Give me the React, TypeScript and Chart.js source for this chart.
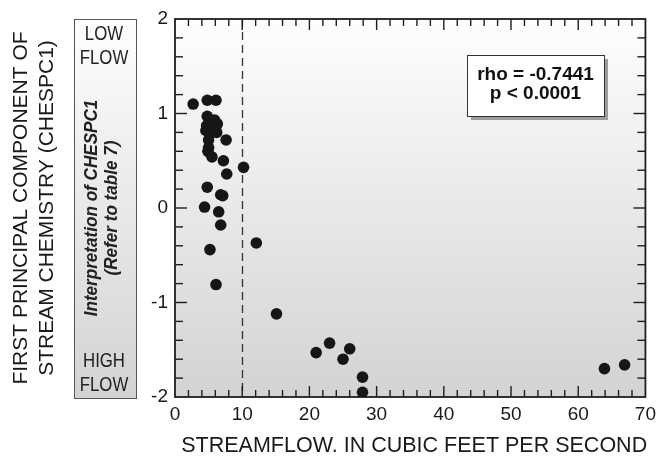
import React, { useEffect, useRef } from "react";
import { Chart, registerables } from "chart.js";

Chart.register(...registerables);

// Streamflow (cfs) and CHESPC1 values
const streamflow = [
  2.7, 4.8, 6.1, 4.8, 5.9, 6.3, 4.7, 4.6, 6.2, 5.2, 5.0, 7.6, 5.0, 5.0, 4.9, 5.5,
  7.2, 10.2, 7.7, 4.8, 6.8, 7.1, 4.4, 6.5, 6.8, 12.1, 5.2, 6.1, 15.1, 21.0, 23.0,
  25.0, 26.0, 27.9, 27.9, 63.9, 66.9,
];
const chespc1 = [
  1.1, 1.14, 1.14, 0.97, 0.93, 0.89, 0.87, 0.82, 0.8, 0.79, 0.84, 0.72, 0.72, 0.64,
  0.6, 0.54, 0.5, 0.43, 0.36, 0.22, 0.14, 0.13, 0.01, -0.04, -0.18, -0.37, -0.44,
  -0.81, -1.12, -1.53, -1.43, -1.6, -1.49, -1.79, -1.95, -1.7, -1.66,
];

const xMin = 0;
const xMax = 70;
const xMajorStep = 10;
const xMinorStep = 2;
const yMin = -2;
const yMax = 2;
const yMajorStep = 1;
const yMinorStep = 0.2;
const thresholdFlow = 10;

const statLines = ["rho = -0.7441", "p < 0.0001"];
const xTitle = "STREAMFLOW. IN CUBIC FEET PER SECOND";
const yTitleLines = ["FIRST PRINCIPAL COMPONENT OF", "STREAM CHEMISTRY (CHESPC1)"];
const interpLines = ["Interpretation of CHESPC1", "(Refer to table 7)"];
const lowLabel = ["LOW", "FLOW"];
const highLabel = ["HIGH", "FLOW"];

const FONT = "'Liberation Sans', Arial, Helvetica, sans-serif";

function gradientFill(ctx: CanvasRenderingContext2D, top: number, bottom: number) {
  const g = ctx.createLinearGradient(0, top, 0, bottom);
  g.addColorStop(0, "#fefefe");
  g.addColorStop(1, "#d2d3d5");
  return g;
}

function drawFrameAndTicks(chart: any) {
  const ctx: CanvasRenderingContext2D = chart.ctx;
  const a = chart.chartArea;
  const xs = chart.scales.x;
  const ys = chart.scales.y;
  ctx.save();
  ctx.fillStyle = "#1e1e1e";
  const w = 1.4;
  const nx = Math.round((xMax - xMin) / xMinorStep);
  for (let i = 1; i < nx; i++) {
    const v = xMin + i * xMinorStep;
    const major = Math.abs(v / xMajorStep - Math.round(v / xMajorStep)) < 1e-6;
    const len = major ? 11 : 7;
    const p = xs.getPixelForValue(v);
    ctx.fillRect(p - w / 2, a.top, w, len);
    ctx.fillRect(p - w / 2, a.bottom - len, w, len);
  }
  const ny = Math.round((yMax - yMin) / yMinorStep);
  for (let i = 1; i < ny; i++) {
    const v = yMin + i * yMinorStep;
    const major = Math.abs(v / yMajorStep - Math.round(v / yMajorStep)) < 1e-6;
    const len = major ? 12 : 8;
    const p = ys.getPixelForValue(v);
    ctx.fillRect(a.left, p - w / 2, len, w);
    ctx.fillRect(a.right - len, p - w / 2, len, w);
  }
  ctx.strokeStyle = "#1e1e1e";
  ctx.lineWidth = 1.8;
  ctx.strokeRect(a.left, a.top, a.right - a.left, a.bottom - a.top);
  ctx.restore();
}

const decorPlugin = {
  id: "decor",
  beforeDraw(chart: any) {
    const ctx: CanvasRenderingContext2D = chart.ctx;
    const a = chart.chartArea;
    ctx.save();
    ctx.fillStyle = "#ffffff";
    ctx.fillRect(0, 0, chart.width, chart.height);
    ctx.fillStyle = gradientFill(ctx, a.top, a.bottom);
    ctx.fillRect(a.left, a.top, a.right - a.left, a.bottom - a.top);

    // interpretation box
    const bx = 74, bw = 62, by = a.top, bh = a.bottom - a.top + 1;
    ctx.fillStyle = gradientFill(ctx, by, by + bh);
    ctx.fillRect(bx, by, bw, bh);
    ctx.strokeStyle = "#555";
    ctx.lineWidth = 1;
    ctx.strokeRect(bx + 0.5, by + 0.5, bw, bh);

    const cx = bx + bw / 2 - 1;
    ctx.fillStyle = "#222";
    ctx.textAlign = "center";
    ctx.textBaseline = "middle";
    ctx.font = `21px ${FONT}`;
    const drawNarrow = (t: string, x: number, y: number) => {
      ctx.save();
      ctx.translate(x, y);
      ctx.scale(0.8, 1);
      ctx.fillText(t, 0, 0);
      ctx.restore();
    };
    drawNarrow(lowLabel[0], cx, by + 15);
    drawNarrow(lowLabel[1], cx, by + 39);
    drawNarrow(highLabel[0], cx, by + bh - 37);
    drawNarrow(highLabel[1], cx, by + bh - 13);

    const midY = (a.top + a.bottom) / 2;
    ctx.font = `italic bold 19px ${FONT}`;
    [[interpLines[0], 92], [interpLines[1], 112]].forEach(([t, x]) => {
      ctx.save();
      ctx.translate(x as number, midY);
      ctx.rotate(-Math.PI / 2);
      ctx.scale(0.9, 1);
      ctx.fillText(t as string, 0, 0);
      ctx.restore();
    });

    ctx.font = `21px ${FONT}`;
    ctx.fillStyle = "#1a1a1a";
    [[yTitleLines[0], 21], [yTitleLines[1], 47]].forEach(([t, x]) => {
      ctx.save();
      ctx.translate(x as number, midY);
      ctx.rotate(-Math.PI / 2);
      ctx.fillText(t as string, 0, 0);
      ctx.restore();
    });

    ctx.font = `21.5px ${FONT}`;
    ctx.fillText(xTitle, (a.left + a.right) / 2 + 4, 446);
    ctx.restore();
  },
  beforeDatasetsDraw(chart: any) {
    const ctx: CanvasRenderingContext2D = chart.ctx;
    const a = chart.chartArea;
    const xs = chart.scales.x;
    ctx.save();
    const px = Math.round(xs.getPixelForValue(thresholdFlow)) + 0.5;
    ctx.strokeStyle = "#333";
    ctx.lineWidth = 1.3;
    ctx.setLineDash([8, 5]);
    ctx.beginPath();
    ctx.moveTo(px, a.top);
    ctx.lineTo(px, a.bottom);
    ctx.stroke();
    ctx.restore();
    drawFrameAndTicks(chart);
  },
  afterDraw(chart: any) {
    const ctx: CanvasRenderingContext2D = chart.ctx;
    ctx.save();
    const bx = 467, by = 55, bw = 137, bh = 61;
    ctx.fillStyle = "#9d9d9f";
    ctx.fillRect(bx + 4, by + 4, bw, bh);
    ctx.fillStyle = "#ffffff";
    ctx.fillRect(bx, by, bw, bh);
    ctx.strokeStyle = "#333";
    ctx.lineWidth = 1;
    ctx.strokeRect(bx + 0.5, by + 0.5, bw, bh);
    ctx.fillStyle = "#111";
    ctx.font = `bold 19px ${FONT}`;
    ctx.textAlign = "center";
    ctx.textBaseline = "middle";
    ctx.fillText(statLines[0], bx + bw / 2, by + 20);
    ctx.fillText(statLines[1], bx + bw / 2, by + 39);
    ctx.restore();
  },
};

export default function App() {
  const ref = useRef<HTMLCanvasElement>(null);
  useEffect(() => {
    if (!ref.current) return;
    const points = streamflow.map((x, i) => ({ x, y: chespc1[i] }));
    const chart = new Chart(ref.current, {
      type: "scatter",
      data: {
        datasets: [
          {
            data: points,
            pointRadius: 5.8,
            pointHoverRadius: 5.8,
            backgroundColor: "#161616",
            borderWidth: 0,
          },
        ],
      },
      options: {
        animation: false,
        responsive: false,
        events: [],
        layout: { padding: { top: 19, right: 14, left: 0, bottom: 0 } },
        plugins: { legend: { display: false }, tooltip: { enabled: false } },
        scales: {
          x: {
            type: "linear",
            min: xMin,
            max: xMax,
            ticks: {
              stepSize: xMajorStep,
              color: "#1a1a1a",
              font: { size: 19, family: FONT },
              padding: 6,
            },
            grid: { display: false, drawTicks: false },
            border: { display: false },
            afterFit: (s: any) => {
              s.height = 64;
            },
          },
          y: {
            type: "linear",
            min: yMin,
            max: yMax,
            ticks: {
              stepSize: yMajorStep,
              color: "#1a1a1a",
              font: { size: 19, family: FONT },
              padding: 7,
            },
            grid: { display: false, drawTicks: false },
            border: { display: false },
            afterFit: (s: any) => {
              s.width = 175;
            },
          },
        },
      },
      plugins: [decorPlugin],
    });
    return () => chart.destroy();
  }, []);
  return (
    <div style={{ position: "fixed", left: 0, top: 0, width: 662, height: 461 }}>
      <canvas ref={ref} width={662} height={461} />
    </div>
  );
}
